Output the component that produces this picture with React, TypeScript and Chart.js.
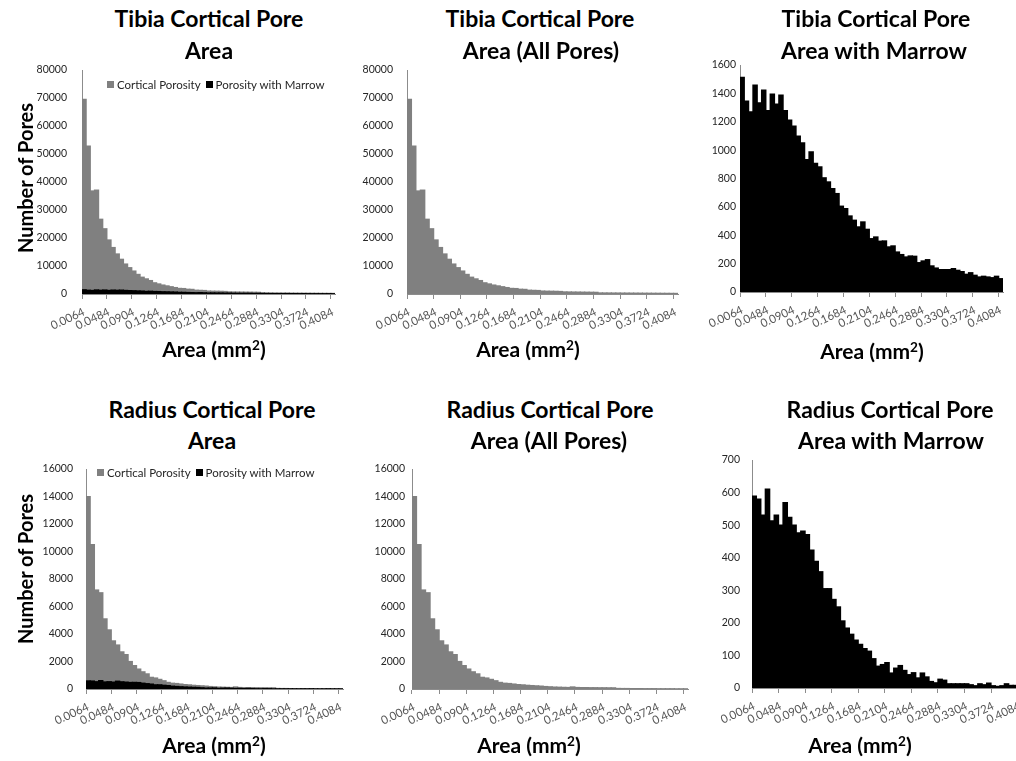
import React, { useEffect, useRef } from 'react';
import { Chart, registerables } from 'chart.js';

Chart.register(...registerables);

// ---------------- data ----------------
const tickLabels = ['0.0064', '0.0484', '0.0904', '0.1264', '0.1684', '0.2104', '0.2464', '0.2884', '0.3304', '0.3724', '0.4084'];
const LABEL_EVERY = 6;
const BIN_COUNT = 61;
const categories: string[] = Array.from({ length: BIN_COUNT }, (_, i) => (i % LABEL_EVERY === 0 ? tickLabels[i / LABEL_EVERY] : ''));

const tibiaCortical = [
  69500, 52800, 36800, 37100, 26700, 23300, 19300, 16600, 14300, 12400,
  10700, 9400, 8200, 7000, 6000, 5400, 4800, 4000, 3600, 3200,
  2900, 2600, 2300, 2000, 1950, 1700, 1650, 1350, 1300, 1250,
  1050, 1000, 980, 950, 900, 750, 720, 700, 680, 660,
  640, 620, 600, 380, 370, 360, 350, 340, 330, 320,
  310, 300, 290, 280, 270, 260, 250, 240, 230, 220, 210,
];

const tibiaMarrow = [
  1513, 1346, 1270, 1459, 1334, 1423, 1278, 1395, 1325, 1388,
  1278, 1212, 1169, 1099, 1052, 934, 988, 906, 882, 805,
  776, 729, 694, 605, 588, 536, 506, 459, 494, 442,
  376, 388, 358, 360, 318, 325, 282, 264, 247, 254,
  252, 207, 219, 228, 184, 169, 158, 158, 158, 165,
  153, 144, 125, 136, 118, 106, 111, 106, 101, 111, 94,
];

const radiusCortical = [
  14000, 10500, 7200, 7000, 5100, 4300, 3500, 3200, 2700, 2500,
  2000, 1700, 1450, 1250, 1100, 850, 800, 700, 600, 480,
  420, 400, 360, 320, 300, 270, 250, 230, 210, 180,
  160, 140, 130, 120, 110, 150, 110, 100, 100, 95,
  95, 90, 90, 85, 85, 40, 35, 35, 30, 30,
  30, 25, 25, 25, 20, 20, 20, 20, 15, 15, 15,
];

const radiusMarrow = [
  589, 580, 531, 611, 513, 531, 500, 569, 524, 500,
  476, 482, 471, 423, 389, 357, 305, 305, 272, 249,
  206, 184, 165, 147, 134, 121, 113, 90, 67, 72,
  78, 46, 61, 69, 54, 41, 47, 31, 46, 34,
  20, 16, 27, 24, 13, 13, 13, 13, 13, 10,
  7, 13, 10, 15, 7, 5, 7, 13, 8, 8, 8,
];

// ---------------- styles ----------------
const FONT = 'Lato, "Open Sans", sans-serif';
const AXIS = '#8c8c8c';
const GRAY = '#808080';
const BLACK = '#000000';

type Series = { label: string; data: number[]; color: string; order: number };
type Spec = {
  area: [number, number, number, number];
  yMax: number;
  yStep: number;
  tickPad: number;
  series: Series[];
};

const YW = 60;
const XH = 60;
const PT = 10;
const PR = 12;

function HistChart({ spec }: { spec: Spec }) {
  const ref = useRef<HTMLCanvasElement>(null);
  const [x0, y0, x1, y1] = spec.area;
  const width = x1 - x0 + YW + PR;
  const height = y1 - y0 + PT + XH;
  useEffect(() => {
    if (!ref.current) return;
    const chart = new Chart(ref.current, {
      type: 'bar',
      data: {
        labels: categories,
        datasets: spec.series.map((s) => ({
          label: s.label,
          data: s.data,
          backgroundColor: s.color,
          borderWidth: 0,
          barPercentage: 1,
          categoryPercentage: 1,
          inflateAmount: 0.6,
          grouped: false,
          order: s.order,
        })),
      },
      options: {
        animation: false,
        responsive: false,
        maintainAspectRatio: false,
        devicePixelRatio: 1,
        layout: { padding: { left: 0, top: PT, right: PR, bottom: 0 } },
        plugins: { legend: { display: false }, tooltip: { enabled: false }, title: { display: false } },
        scales: {
          x: {
            type: 'category',
            offset: true,
            grid: {
              display: true,
              offset: true,
              drawOnChartArea: false,
              drawTicks: true,
              tickLength: 5,
              lineWidth: 1,
              color: (c: any) => (typeof c.index === 'number' && c.index % LABEL_EVERY === 0 ? AXIS : 'rgba(0,0,0,0)'),
            },
            border: { display: true, color: AXIS, width: 1 },
            ticks: {
              autoSkip: false,
              minRotation: 25,
              maxRotation: 25,
              padding: 6,
              color: '#555555',
              font: { family: FONT, size: 11.5 },
              callback: (_v: any, i: number) => categories[i],
            },
            afterFit: (s: any) => {
              s.height = XH;
              s.paddingLeft = 0;
              s.paddingRight = 0;
            },
          },
          y: {
            min: 0,
            max: spec.yMax,
            grid: { display: false, drawTicks: false },
            border: { display: true, color: AXIS, width: 1 },
            ticks: {
              stepSize: spec.yStep,
              padding: spec.tickPad,
              color: '#262626',
              font: { family: FONT, size: 10.5 },
              callback: (v: any) => String(v),
            },
            afterFit: (s: any) => {
              s.width = YW;
              s.paddingTop = 0;
              s.paddingBottom = 0;
            },
          },
        },
      } as any,
    });
    return () => chart.destroy();
  }, []);
  return (
    <canvas
      ref={ref}
      width={width}
      height={height}
      style={{ position: 'absolute', left: x0 - YW, top: y0 - PT, width, height }}
    />
  );
}

function CText({ cx, cy, text, size, bold = true, color = '#000' }: { cx: number; cy: number; text: React.ReactNode; size: number; bold?: boolean; color?: string }) {
  return (
    <div
      style={{
        position: 'absolute',
        left: cx - 200,
        width: 400,
        top: cy - size * 0.6,
        height: size * 1.2,
        lineHeight: `${size * 1.2}px`,
        textAlign: 'center',
        fontFamily: FONT,
        fontWeight: bold ? 700 : 400,
        fontSize: size,
        color,
        whiteSpace: 'nowrap',
      }}
    >
      {text}
    </div>
  );
}

function VText({ cx, cy, text, size }: { cx: number; cy: number; text: string; size: number }) {
  return (
    <div
      style={{
        position: 'absolute',
        left: cx,
        top: cy,
        transform: 'translate(-50%, -50%) rotate(-90deg)',
        fontFamily: FONT,
        fontWeight: 700,
        fontSize: size,
        lineHeight: `${size * 1.2}px`,
        whiteSpace: 'nowrap',
        color: '#000',
      }}
    >
      {text}
    </div>
  );
}

function Legend({ left, cy }: { left: number; cy: number }) {
  const box = (c: string) => (
    <span style={{ display: 'inline-block', width: 7, height: 7, background: c, marginRight: 3 }} />
  );
  return (
    <div
      style={{
        position: 'absolute',
        left,
        top: cy - 7,
        height: 14,
        display: 'flex',
        alignItems: 'center',
        fontFamily: FONT,
        fontSize: 11.5,
        color: '#262626',
        whiteSpace: 'nowrap',
      }}
    >
      {box(GRAY)}
      <span style={{ marginRight: 5 }}>Cortical Porosity</span>
      {box(BLACK)}
      <span>Porosity with Marrow</span>
    </div>
  );
}

const AREA_TITLE = (
  <span>
    Area (mm<sup style={{ fontSize: '0.65em', verticalAlign: '0.5em', lineHeight: 0 }}>2</sup>)
  </span>
);

const specs: Spec[] = [
  {
    area: [82, 70, 335, 294], yMax: 80000, yStep: 10000, tickPad: 15,
    series: [
      { label: 'Cortical Porosity', data: tibiaCortical, color: GRAY, order: 1 },
      { label: 'Porosity with Marrow', data: tibiaMarrow, color: BLACK, order: 0 },
    ],
  },
  {
    area: [407, 70, 678, 294], yMax: 80000, yStep: 10000, tickPad: 14,
    series: [{ label: 'All Pores', data: tibiaCortical, color: GRAY, order: 0 }],
  },
  {
    area: [740, 65, 1003, 292], yMax: 1600, yStep: 200, tickPad: 4,
    series: [{ label: 'Porosity with Marrow', data: tibiaMarrow, color: BLACK, order: 0 }],
  },
  {
    area: [86, 469, 343, 689], yMax: 16000, yStep: 2000, tickPad: 13,
    series: [
      { label: 'Cortical Porosity', data: radiusCortical, color: GRAY, order: 1 },
      { label: 'Porosity with Marrow', data: radiusMarrow, color: BLACK, order: 0 },
    ],
  },
  {
    area: [412, 469, 688, 689], yMax: 16000, yStep: 2000, tickPad: 7,
    series: [{ label: 'All Pores', data: radiusCortical, color: GRAY, order: 0 }],
  },
  {
    area: [752, 460, 1022, 688], yMax: 700, yStep: 100, tickPad: 12,
    series: [{ label: 'Porosity with Marrow', data: radiusMarrow, color: BLACK, order: 0 }],
  },
];

export default function App() {
  return (
    <div style={{ position: 'absolute', left: 0, top: 0, width: 1016, height: 761, overflow: 'hidden', background: '#fff' }}>
      {specs.map((s, i) => (
        <HistChart key={i} spec={s} />
      ))}

      <CText cx={209} cy={19} size={23} text="Tibia Cortical Pore" />
      <CText cx={209} cy={51} size={23} text="Area" />
      <CText cx={540} cy={19} size={23} text="Tibia Cortical Pore" />
      <CText cx={541} cy={51} size={23} text="Area (All Pores)" />
      <CText cx={876} cy={19} size={23} text="Tibia Cortical Pore" />
      <CText cx={874} cy={51} size={23} text="Area with Marrow" />

      <CText cx={212} cy={410} size={23} text="Radius Cortical Pore" />
      <CText cx={212} cy={441} size={23} text="Area" />
      <CText cx={550} cy={410} size={23} text="Radius Cortical Pore" />
      <CText cx={549} cy={441} size={23} text="Area (All Pores)" />
      <CText cx={890} cy={410} size={23} text="Radius Cortical Pore" />
      <CText cx={891} cy={441} size={23} text="Area with Marrow" />

      <VText cx={25} cy={178} size={20} text="Number of Pores" />
      <VText cx={25} cy={569} size={20} text="Number of Pores" />

      <CText cx={214} cy={349} size={21} text={AREA_TITLE} />
      <CText cx={528} cy={349} size={21} text={AREA_TITLE} />
      <CText cx={872} cy={351} size={21} text={AREA_TITLE} />
      <CText cx={214} cy={745} size={21} text={AREA_TITLE} />
      <CText cx={529} cy={745} size={21} text={AREA_TITLE} />
      <CText cx={860} cy={745} size={21} text={AREA_TITLE} />

      <Legend left={107} cy={84} />
      <Legend left={97} cy={472} />
    </div>
  );
}
